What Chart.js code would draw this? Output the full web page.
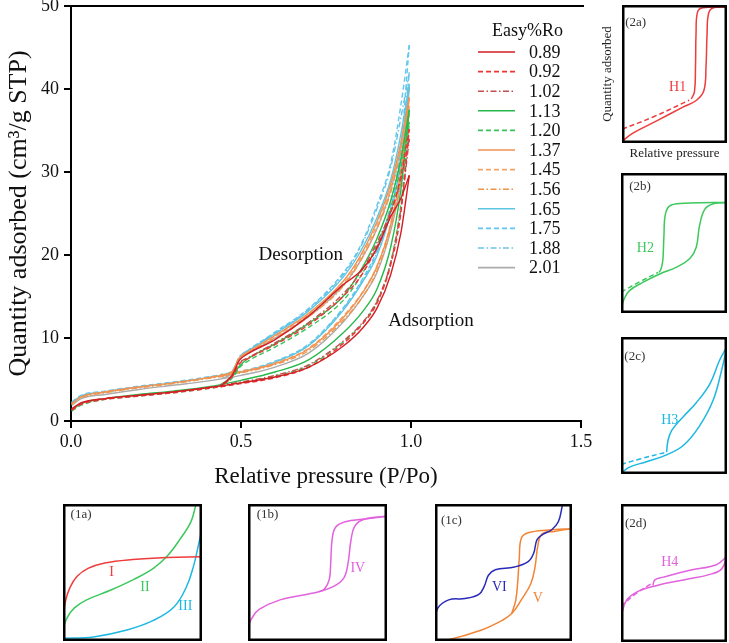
<!DOCTYPE html>
<html>
<head>
<meta charset="utf-8">
<script src="https://cdn.jsdelivr.net/npm/chart.js@4.4.0/dist/chart.umd.min.js"></script>
<style>
  body { margin: 0; background: #fff; width: 729px; height: 643px; position: relative; overflow: hidden; }
  canvas { position: absolute; }
</style>
</head>
<body>
<canvas id="main" width="600" height="500" style="left:0;top:0"></canvas>
<canvas id="p2a" width="133" height="162" style="left:596px;top:0"></canvas>
<canvas id="p2b" width="106" height="140" style="left:621px;top:173px"></canvas>
<canvas id="p2c" width="106" height="137" style="left:621px;top:337px"></canvas>
<canvas id="p2d" width="106" height="138" style="left:621px;top:504px"></canvas>
<canvas id="p1a" width="139" height="137" style="left:63px;top:504px"></canvas>
<canvas id="p1b" width="139" height="137" style="left:248px;top:504px"></canvas>
<canvas id="p1c" width="137" height="137" style="left:435px;top:504px"></canvas>
<script>
// main panel: relative pressure points of each branch
const adsX = [0.002, 0.03, 0.1, 0.2, 0.3, 0.4, 0.5, 0.6, 0.7, 0.8, 0.86, 0.9, 0.94, 0.97, 0.995];
const desX = [0.995, 0.97, 0.94, 0.9, 0.85, 0.8, 0.7, 0.6, 0.52, 0.495, 0.475, 0.44];

const ads089 = [1.5, 2.2, 2.7, 3.1, 3.5, 4.0, 4.6, 5.3, 6.5, 9.0, 11.3, 13.6, 17.6, 22.6, 29.6];
const des089 = [29.6, 26.8, 24.6, 20.8, 18.0, 16.4, 12.7, 9.8, 8.1, 7.3, 5.6, 4.2];
const ads092 = [1.3, 2.0, 2.6, 3.0, 3.4, 3.9, 4.5, 5.2, 6.5, 9.3, 11.8, 14.2, 18.8, 25.0, 35.2];
const des092 = [35.2, 29.5, 25.0, 21.0, 17.3, 15.0, 11.6, 9.2, 7.5, 6.9, 5.4, 4.1];
const ads102 = [1.4, 2.1, 2.7, 3.1, 3.5, 4.0, 4.7, 5.5, 6.8, 9.6, 12.0, 14.5, 19.0, 25.5, 34.0];
const des102 = [34.0, 29.0, 25.2, 21.5, 17.8, 15.3, 11.9, 9.4, 7.6, 7.0, 5.5, 4.3];
const ads113 = [1.3, 2.1, 2.7, 3.2, 3.6, 4.1, 4.9, 5.9, 7.4, 10.6, 13.3, 15.9, 20.9, 27.8, 37.5];
const des113 = [37.5, 31.5, 26.5, 22.0, 18.0, 15.0, 11.8, 9.3, 7.5, 6.6, 5.4, 4.4];
const ads120 = [1.2, 1.9, 2.6, 3.0, 3.4, 3.9, 4.6, 5.4, 6.7, 9.5, 11.9, 14.4, 19.1, 26.0, 36.0];
const des120 = [36.0, 30.5, 25.5, 21.2, 17.3, 14.5, 11.3, 8.9, 7.2, 6.4, 5.2, 4.2];
const ads137 = [2.1, 2.9, 3.5, 4.1, 4.6, 5.2, 5.9, 6.9, 8.7, 12.4, 15.6, 18.6, 23.6, 30.0, 39.0];
const des137 = [39.0, 33.5, 28.5, 24.0, 19.8, 16.8, 13.0, 10.3, 8.3, 7.6, 6.0, 5.5];
const ads145 = [2.0, 2.9, 3.5, 4.1, 4.6, 5.2, 6.0, 7.0, 8.8, 12.6, 15.7, 18.7, 23.7, 29.8, 38.0];
const des145 = [38.0, 33.0, 28.0, 23.6, 19.5, 16.5, 12.8, 10.2, 8.3, 7.6, 6.0, 5.5];
const ads156 = [2.0, 2.8, 3.4, 4.0, 4.5, 5.1, 5.8, 6.8, 8.5, 12.1, 15.1, 18.1, 23.1, 29.0, 37.0];
const des156 = [37.0, 32.5, 27.5, 23.2, 19.2, 16.2, 12.6, 10.0, 8.2, 7.5, 5.9, 5.4];
const ads165 = [2.2, 3.0, 3.5, 4.1, 4.6, 5.2, 5.9, 7.1, 9.1, 13.3, 16.9, 19.9, 25.1, 31.2, 40.6];
const des165 = [40.6, 34.5, 29.0, 24.5, 20.3, 17.3, 13.3, 10.5, 8.4, 7.6, 6.0, 5.5];
const ads175 = [2.3, 3.1, 3.6, 4.2, 4.7, 5.3, 6.0, 7.2, 9.3, 13.6, 17.3, 20.6, 26.1, 33.0, 45.3];
const des175 = [45.3, 38.0, 31.0, 26.0, 21.0, 17.8, 13.6, 10.7, 8.5, 7.7, 6.1, 5.6];
const ads188 = [2.2, 3.0, 3.5, 4.1, 4.6, 5.2, 5.9, 7.1, 9.2, 13.5, 17.1, 20.3, 25.6, 32.2, 42.0];
const des188 = [42.0, 36.5, 30.5, 25.6, 20.8, 17.6, 13.5, 10.6, 8.5, 7.7, 6.0, 5.5];
const ads201 = [1.9, 2.7, 3.2, 3.8, 4.3, 4.8, 5.5, 6.5, 8.2, 11.9, 15.1, 17.9, 22.9, 29.0, 40.2];
const des201 = [40.2, 33.0, 27.8, 23.2, 19.2, 16.3, 12.6, 10.0, 8.1, 7.4, 5.8, 5.1];

const roLabels = ['0.89', '0.92', '1.02', '1.13', '1.20', '1.37', '1.45', '1.56', '1.65', '1.75', '1.88', '2.01'];
const adsSets = [ads089, ads092, ads102, ads113, ads120, ads137, ads145, ads156, ads165, ads175, ads188, ads201];
const desSets = [des089, des092, des102, des113, des120, des137, des145, des156, des165, des175, des188, des201];
const xTicks = [0, 0.5, 1.0, 1.5];

const roColors = ['#d21e24', '#f03434', '#c24e4e', '#26b84a', '#3cc25c', '#f39150', '#f5a468', '#f09448',
                  '#5cc6e4', '#62c6ee', '#6ac2e2', '#ababab'];
const DASH = { solid: [], dash: [5, 3], dashdot: [6, 2.5, 1.5, 2.5] };
const roDash = ['solid', 'dash', 'dashdot', 'solid', 'dash', 'solid', 'dash', 'dashdot', 'solid', 'dash', 'dashdot', 'solid'];

const mainNotes = [
  { text: 'Desorption', x: 0.676, y: 20.0 },
  { text: 'Adsorption', x: 1.059, y: 12.0 }
];

const serif = '"Liberation Serif", "DejaVu Serif", serif';

function pts(xs, ys) {
  return xs.map((x, i) => ({ x: x, y: ys[i] }));
}

const mainSets = [];
roLabels.forEach((lab, i) => {
  [adsSets[i], desSets[i]].forEach((ys, k) => {
    mainSets.push({
      label: lab + (k ? ' des' : ' ads'),
      data: pts(k ? desX : adsX, ys),
      borderColor: roColors[i],
      borderWidth: 1.4,
      borderDash: DASH[roDash[i]],
      pointRadius: 0,
      cubicInterpolationMode: 'monotone',
      fill: false
    });
  });
});

const mainDecor = {
  id: 'mainDecor',
  afterDraw(chart) {
    const { ctx, chartArea: a, scales: { x, y } } = chart;
    ctx.save();
    // top frame line
    ctx.strokeStyle = '#000';
    ctx.lineWidth = 2;
    ctx.beginPath();
    ctx.moveTo(a.left - 1, a.top);
    ctx.lineTo(a.right + 3, a.top);
    ctx.stroke();

    ctx.fillStyle = '#111';
    ctx.textBaseline = 'middle';
    ctx.textAlign = 'center';
    ctx.font = '19px ' + serif;
    mainNotes.forEach(n => ctx.fillText(n.text, x.getPixelForValue(n.x), y.getPixelForValue(n.y)));

    // legend
    ctx.font = '18px ' + serif;
    ctx.textAlign = 'right';
    ctx.fillText('Easy%Ro', 563, 31);
    ctx.textAlign = 'left';
    roLabels.forEach((lab, i) => {
      const ly = 52 + i * 19.6;
      ctx.strokeStyle = roColors[i];
      ctx.lineWidth = 1.6;
      ctx.setLineDash(DASH[roDash[i]]);
      ctx.beginPath();
      ctx.moveTo(478, ly);
      ctx.lineTo(515, ly);
      ctx.stroke();
      ctx.setLineDash([]);
      ctx.fillText(lab, 529, ly + 1);
    });
    ctx.restore();
  }
};

new Chart(document.getElementById('main'), {
  type: 'line',
  data: { datasets: mainSets },
  options: {
    responsive: false,
    animation: false,
    events: [],
    layout: { padding: { top: 6, right: 19, left: 0, bottom: 0 } },
    plugins: { legend: { display: false }, tooltip: { enabled: false } },
    scales: {
      x: {
        type: 'linear',
        min: 0,
        max: 1.5,
        afterBuildTicks: s => { s.ticks = xTicks.map(v => ({ value: v })); },
        afterFit: s => { s.height = 79; s.paddingRight = 0; s.paddingLeft = 0; },
        grid: { drawOnChartArea: false, tickLength: 7, color: '#000', lineWidth: 2 },
        border: { color: '#000', width: 2 },
        ticks: { color: '#111', font: { family: serif, size: 18 }, padding: 3, callback: v => v.toFixed(1) },
        title: { display: true, text: 'Relative pressure (P/Po)', color: '#111', font: { family: serif, size: 23 }, padding: { top: 0, bottom: 9 } }
      },
      y: {
        min: 0,
        max: 50,
        afterFit: s => { s.width = 71; s.paddingTop = 0; s.paddingBottom = 0; },
        grid: { drawOnChartArea: false, tickLength: 7, color: '#000', lineWidth: 2 },
        border: { color: '#000', width: 2 },
        ticks: { stepSize: 10, color: '#111', font: { family: serif, size: 18 }, padding: 5 },
        title: { display: true, text: 'Quantity adsorbed (cm³/g STP)', color: '#111', font: { family: serif, size: 26 }, padding: { top: 4, bottom: 0 } }
      }
    }
  },
  plugins: [mainDecor]
});

// ---- schematic insets (normalised 0..1) ----
const typeIx = [0, 0.02, 0.05, 0.1, 0.18, 0.3, 0.5, 0.75, 1];
const typeIy = [0.18, 0.3, 0.39, 0.47, 0.53, 0.57, 0.595, 0.61, 0.615];
const typeIIx = [0, 0.03, 0.08, 0.17, 0.34, 0.51, 0.65, 0.75, 0.84, 0.92, 0.955];
const typeIIy = [0.09, 0.17, 0.24, 0.3, 0.37, 0.45, 0.53, 0.62, 0.74, 0.87, 0.99];
const typeIIIx = [0, 0.22, 0.46, 0.65, 0.8, 0.89, 0.94, 0.97, 1.0];
const typeIIIy = [0.02, 0.03, 0.08, 0.15, 0.25, 0.4, 0.55, 0.68, 0.82];

const typeIVadsX = [0, 0.03, 0.08, 0.23, 0.42, 0.51, 0.62, 0.69, 0.72, 0.74, 0.77, 0.84, 1.0];
const typeIVadsY = [0.1, 0.17, 0.23, 0.3, 0.34, 0.36, 0.4, 0.46, 0.57, 0.73, 0.84, 0.89, 0.91];
const typeIVdesX = [1.0, 0.84, 0.7, 0.63, 0.605, 0.595, 0.585, 0.55, 0.51];
const typeIVdesY = [0.91, 0.89, 0.87, 0.83, 0.74, 0.57, 0.45, 0.38, 0.36];

const typeVIx = [0, 0.02, 0.1, 0.22, 0.32, 0.36, 0.39, 0.44, 0.58, 0.68, 0.72, 0.745, 0.79, 0.85, 0.9, 0.93];
const typeVIy = [0.15, 0.24, 0.3, 0.31, 0.34, 0.4, 0.48, 0.52, 0.54, 0.58, 0.64, 0.74, 0.78, 0.81, 0.87, 0.99];
const typeVadsX = [0, 0.1, 0.34, 0.49, 0.56, 0.63, 0.7, 0.73, 0.75, 0.78, 0.87, 1.0];
const typeVadsY = [0.005, 0.01, 0.08, 0.15, 0.2, 0.3, 0.42, 0.54, 0.69, 0.78, 0.8, 0.82];
const typeVdesX = [1.0, 0.83, 0.68, 0.63, 0.615, 0.605, 0.59, 0.56];
const typeVdesY = [0.82, 0.81, 0.79, 0.75, 0.6, 0.45, 0.3, 0.2];

const h1adsX = [0, 0.1, 0.33, 0.58, 0.71, 0.78, 0.8, 0.81, 0.825, 0.87, 1.0];
const h1adsY = [0.01, 0.07, 0.16, 0.26, 0.31, 0.38, 0.55, 0.79, 0.94, 0.98, 0.985];
const h1desX = [1.0, 0.77, 0.72, 0.705, 0.7, 0.69, 0.66];
const h1desY = [0.985, 0.98, 0.95, 0.79, 0.55, 0.37, 0.32];
const h1lowX = [0, 0.3, 0.64];
const h1lowY = [0.1, 0.19, 0.31];

const h2adsX = [0, 0.03, 0.08, 0.21, 0.37, 0.53, 0.65, 0.71, 0.74, 0.79, 0.87, 1.0];
const h2adsY = [0.03, 0.1, 0.16, 0.22, 0.28, 0.33, 0.39, 0.47, 0.62, 0.74, 0.78, 0.79];
const h2desX = [1.0, 0.65, 0.47, 0.42, 0.405, 0.395, 0.38, 0.36];
const h2desY = [0.79, 0.785, 0.77, 0.71, 0.55, 0.38, 0.32, 0.29];
const h2lowX = [0, 0.17, 0.35];
const h2lowY = [0.15, 0.22, 0.29];

const h3adsX = [0, 0.08, 0.24, 0.43, 0.59, 0.74, 0.87, 0.95, 1.0];
const h3adsY = [0.005, 0.05, 0.09, 0.14, 0.21, 0.35, 0.54, 0.76, 0.93];
const h3desX = [1.0, 0.93, 0.84, 0.71, 0.59, 0.48, 0.445, 0.43];
const h3desY = [0.93, 0.83, 0.66, 0.52, 0.42, 0.32, 0.25, 0.16];
const h3lowX = [0, 0.18, 0.43];
const h3lowY = [0.07, 0.11, 0.16];

const h4adsX = [0, 0.05, 0.17, 0.34, 0.59, 0.84, 0.95, 1.0];
const h4adsY = [0.18, 0.3, 0.37, 0.41, 0.45, 0.49, 0.53, 0.62];
const h4desX = [1.0, 0.9, 0.65, 0.4, 0.32, 0.3];
const h4desY = [0.62, 0.56, 0.52, 0.47, 0.45, 0.41];
const h4lowX = [0, 0.14, 0.28];
const h4lowY = [0.26, 0.35, 0.42];

const RED = '#ee3b3b', GREEN = '#3cc85c', CYAN = '#1cb8e2', PINK = '#e262de', BLUE = '#2a2ab8', ORANGE = '#f28434';

function line(xs, ys, color, dash) {
  return {
    data: pts(xs, ys),
    borderColor: color,
    borderWidth: 1.5,
    borderDash: dash || [],
    pointRadius: 0,
    tension: 0.4,
    fill: false
  };
}

function boxDecor(notes) {
  return {
    id: 'boxDecor',
    afterDraw(chart) {
      const { ctx, chartArea: a, scales: { x, y } } = chart;
      ctx.save();
      ctx.strokeStyle = '#000';
      ctx.lineWidth = 2.5;
      ctx.strokeRect(a.left + 1.25, a.top + 1.25, a.right - a.left - 2.5, a.bottom - a.top - 2.5);
      ctx.textAlign = 'center';
      ctx.textBaseline = 'middle';
      notes.forEach(n => {
        ctx.fillStyle = n.color || '#333';
        ctx.font = (n.size || 13) + 'px ' + serif;
        ctx.fillText(n.text, x.getPixelForValue(n.x), y.getPixelForValue(n.y));
      });
      ctx.restore();
    }
  };
}

function inset(id, sets, notes, axes) {
  const hidden = { display: false, min: 0, max: 1 };
  new Chart(document.getElementById(id), {
    type: 'line',
    data: { datasets: sets },
    options: {
      responsive: false,
      animation: false,
      events: [],
      layout: { padding: axes ? { top: 5, right: 2 } : 0 },
      plugins: { legend: { display: false }, tooltip: { enabled: false } },
      scales: {
        x: Object.assign({ type: 'linear' }, axes ? axes.x : hidden),
        y: axes ? axes.y : hidden
      }
    },
    plugins: [boxDecor(notes)]
  });
}

function titledAxis(text, size, pad) {
  return {
    min: 0, max: 1,
    afterFit: s => { if (s.isHorizontal()) s.height = size; else s.width = size; },
    grid: { display: false },
    border: { display: false },
    ticks: { display: false },
    title: { display: true, text: text, color: '#222', font: { family: serif, size: 13 }, padding: pad }
  };
}

inset('p1a', [
  line(typeIx, typeIy, RED),
  line(typeIIx, typeIIy, GREEN),
  line(typeIIIx, typeIIIy, CYAN)
], [
  { text: '(1a)', x: 0.13, y: 0.92 },
  { text: 'I', x: 0.35, y: 0.5, color: RED, size: 14 },
  { text: 'II', x: 0.59, y: 0.39, color: GREEN, size: 14 },
  { text: 'III', x: 0.88, y: 0.25, color: CYAN, size: 14 }
]);

inset('p1b', [
  line(typeIVadsX, typeIVadsY, PINK),
  line(typeIVdesX, typeIVdesY, PINK)
], [
  { text: '(1b)', x: 0.14, y: 0.92 },
  { text: 'IV', x: 0.79, y: 0.53, color: PINK, size: 14 }
]);

inset('p1c', [
  line(typeVIx, typeVIy, BLUE),
  line(typeVadsX, typeVadsY, ORANGE),
  line(typeVdesX, typeVdesY, ORANGE)
], [
  { text: '(1c)', x: 0.12, y: 0.88 },
  { text: 'VI', x: 0.47, y: 0.39, color: BLUE, size: 14 },
  { text: 'V', x: 0.75, y: 0.31, color: ORANGE, size: 14 }
]);

inset('p2a', [
  line(h1adsX, h1adsY, RED),
  line(h1desX, h1desY, RED),
  line(h1lowX, h1lowY, RED, [5, 3])
], [
  { text: '(2a)', x: 0.13, y: 0.87 },
  { text: 'H1', x: 0.53, y: 0.4, color: RED, size: 14 }
], {
  x: titledAxis('Relative pressure', 19, { top: 0, bottom: 1 }),
  y: titledAxis('Quantity adsorbed', 26, { top: 4, bottom: 0 })
});

inset('p2b', [
  line(h2adsX, h2adsY, GREEN),
  line(h2desX, h2desY, GREEN),
  line(h2lowX, h2lowY, GREEN, [5, 3])
], [
  { text: '(2b)', x: 0.18, y: 0.9 },
  { text: 'H2', x: 0.23, y: 0.46, color: GREEN, size: 14 }
]);

inset('p2c', [
  line(h3adsX, h3adsY, CYAN),
  line(h3desX, h3desY, CYAN),
  line(h3lowX, h3lowY, CYAN, [5, 3])
], [
  { text: '(2c)', x: 0.13, y: 0.86 },
  { text: 'H3', x: 0.46, y: 0.39, color: CYAN, size: 14 }
]);

inset('p2d', [
  line(h4adsX, h4adsY, PINK),
  line(h4desX, h4desY, PINK),
  line(h4lowX, h4lowY, PINK, [5, 3])
], [
  { text: '(2d)', x: 0.14, y: 0.86 },
  { text: 'H4', x: 0.46, y: 0.58, color: PINK, size: 14 }
]);
</script>
</body>
</html>
